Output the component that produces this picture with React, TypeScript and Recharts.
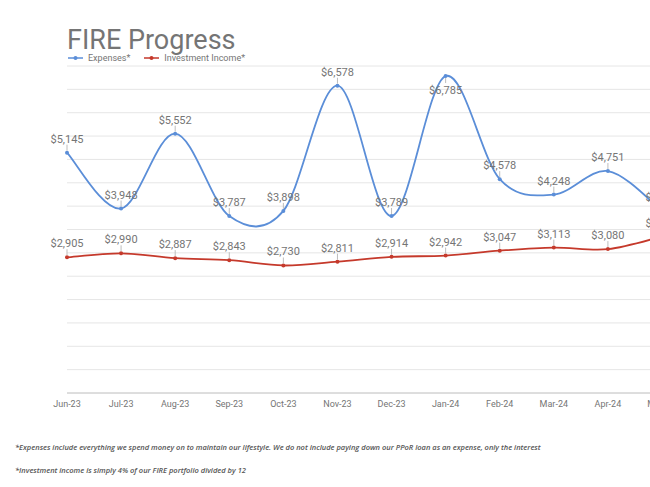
import { CartesianGrid, Line, LineChart, XAxis, YAxis } from "recharts";

const months = ["Jun-23", "Jul-23", "Aug-23", "Sep-23", "Oct-23", "Nov-23", "Dec-23", "Jan-24", "Feb-24", "Mar-24", "Apr-24", "May-24"];
const expenses = [5145, 3948, 5552, 3787, 3898, 6578, 3789, 6785, 4578, 4248, 4751, 3900];
const income = [2905, 2990, 2887, 2843, 2730, 2811, 2914, 2942, 3047, 3113, 3080, 3350];
const yTicks = [0, 500, 1000, 1500, 2000, 2500, 3000, 3500, 4000, 4500, 5000, 5500, 6000, 6500, 7000];

const data = months.map((m, i) => ({ month: m, expenses: expenses[i], income: income[i] }));

const BLUE = "#5b8ed8";
const RED = "#c5392b";
const GREY = "#757575";
const PLOT_TOP = 66;

// catmull-rom style smoothing, like the sheets "smooth" line
const smooth = (context: any) => {
  let pts: number[][] = [];
  return {
    areaStart() {},
    areaEnd() {},
    lineStart() {
      pts = [];
    },
    lineEnd() {
      if (!pts.length) return;
      context.moveTo(pts[0][0], pts[0][1]);
      for (let i = 0; i < pts.length - 1; i++) {
        const p0 = pts[Math.max(i - 1, 0)];
        const p1 = pts[i];
        const p2 = pts[i + 1];
        const p3 = pts[Math.min(i + 2, pts.length - 1)];
        context.bezierCurveTo(
          p1[0] + (p2[0] - p0[0]) / 6,
          p1[1] + (p2[1] - p0[1]) / 6,
          p2[0] - (p3[0] - p1[0]) / 6,
          p2[1] - (p3[1] - p1[1]) / 6,
          p2[0],
          p2[1]
        );
      }
    },
    point(x: number, y: number) {
      pts.push([+x, +y]);
    },
  };
};

// label above the point with a small leader; flips below when it would hit the top
const renderLabel = (props: any) => {
  const { x, y, value, index } = props;
  const below = y - 14 < PLOT_TOP;
  const txt = "$" + Number(value).toLocaleString("en-US");
  return (
    <g key={"lbl" + index}>
      <line x1={x} x2={x} y1={below ? y + 2 : y - 2} y2={below ? y + 7 : y - 8} stroke="#bdbdbd" strokeWidth={1} />
      <text x={x} y={below ? y + 18 : y - 10} textAnchor="middle" fill={GREY} fontSize={11} fontFamily="Roboto">
        {txt}
      </text>
    </g>
  );
};

export default function App() {
  return (
    <div style={{ position: "absolute", left: 0, top: 0, width: 650, height: 487, overflow: "hidden", background: "#fff", fontFamily: "Roboto" }}>
      <div style={{ position: "absolute", left: 67, top: 27, fontSize: 27, lineHeight: 1, color: GREY }}>FIRE Progress</div>
      <div style={{ position: "absolute", left: 68, top: 53, display: "flex", alignItems: "center", fontSize: 9, color: GREY, lineHeight: "10px" }}>
        <svg width={16} height={6}><line x1={0} x2={15} y1={3} y2={3} stroke={BLUE} strokeWidth={1.5} /><circle cx={7.5} cy={3} r={2} fill={BLUE} /></svg>
        <span style={{ marginLeft: 4, marginRight: 14 }}>Expenses*</span>
        <svg width={16} height={6}><line x1={0} x2={15} y1={3} y2={3} stroke={RED} strokeWidth={1.5} /><circle cx={7.5} cy={3} r={2} fill={RED} /></svg>
        <span style={{ marginLeft: 4 }}>Investment Income*</span>
      </div>
      <div style={{ position: "absolute", left: 0, top: 0 }}>
        <LineChart width={680} height={420} data={data} margin={{ top: 66, left: 67, right: 18, bottom: 5 }}>
          <CartesianGrid vertical={false} stroke="#e6e6e6" />
          <XAxis
            dataKey="month"
            height={22}
            tickLine={false}
            axisLine={{ stroke: "#c8c8c8" }}
            tick={{ fill: GREY, fontSize: 9, fontFamily: "Roboto" }}
            tickMargin={2}
            interval={0}
          />
          <YAxis hide domain={[0, 7000]} ticks={yTicks} />
          <Line
            dataKey="expenses"
            type={smooth as any}
            stroke={BLUE}
            strokeWidth={1.8}
            dot={{ r: 2, fill: BLUE, stroke: BLUE, strokeWidth: 0 }}
            label={renderLabel}
            isAnimationActive={false}
          />
          <Line
            dataKey="income"
            type={smooth as any}
            stroke={RED}
            strokeWidth={1.8}
            dot={{ r: 2, fill: RED, stroke: RED, strokeWidth: 0 }}
            label={renderLabel}
            isAnimationActive={false}
          />
        </LineChart>
      </div>
      <div style={{ position: "absolute", left: 15, top: 442, fontFamily: "'Open Sans'", fontStyle: "italic", fontWeight: 600, fontSize: 7.5, color: "#555", lineHeight: "10px" }}>
        *Expenses include everything we spend money on to maintain our lifestyle. We do not include paying down our PPoR loan as an expense, only the interest
      </div>
      <div style={{ position: "absolute", left: 15, top: 465, fontFamily: "'Open Sans'", fontStyle: "italic", fontWeight: 600, fontSize: 7.5, color: "#555", lineHeight: "10px" }}>
        *Investment income is simply 4% of our FIRE portfolio divided by 12
      </div>
    </div>
  );
}
